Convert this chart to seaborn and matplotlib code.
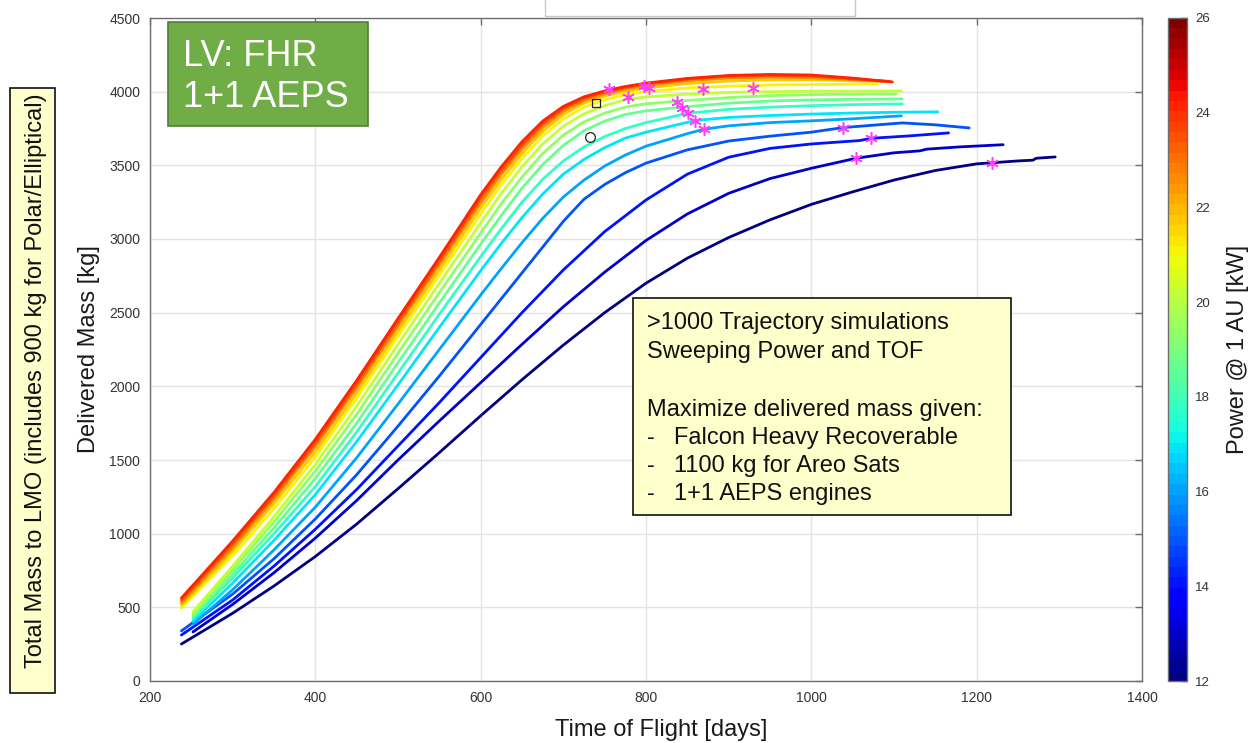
import numpy as np
import pandas as pd
import matplotlib
matplotlib.use("Agg")
import matplotlib.pyplot as plt
import matplotlib.patches as mpatches
from matplotlib.colors import Normalize
import matplotlib.colorbar as mcolorbar
import seaborn as sns

# ---------------- data ----------------
powers = [12.0, 13.0, 14.0, 15.0, 16.0, 17.0, 17.8, 18.6, 19.4, 20.2, 21.0, 21.8, 22.6, 23.4, 24.2]

t_p12 = [238, 300, 350, 400, 450, 500, 550, 600, 650, 700, 750, 800, 850, 900, 950, 1000, 1050, 1100, 1150, 1200, 1250, 1268, 1272, 1295]
m_p12 = [251, 460, 645, 845, 1065, 1305, 1550, 1800, 2045, 2280, 2500, 2700, 2870, 3010, 3130, 3235, 3320, 3400, 3465, 3510, 3530, 3535, 3548, 3557]

t_p13 = [252, 300, 350, 400, 450, 500, 550, 600, 650, 700, 750, 800, 850, 900, 950, 1000, 1054, 1100, 1131, 1140, 1179, 1232]
m_p13 = [333, 520, 735, 970, 1225, 1500, 1765, 2025, 2285, 2540, 2775, 2990, 3170, 3310, 3410, 3480, 3548, 3585, 3598, 3610, 3625, 3640]

t_p14 = [238, 300, 350, 400, 450, 500, 550, 600, 650, 700, 750, 800, 850, 900, 950, 1000, 1058, 1074, 1119, 1166]
m_p14 = [312, 550, 780, 1030, 1300, 1595, 1890, 2195, 2500, 2790, 3050, 3265, 3440, 3555, 3615, 3645, 3668, 3684, 3700, 3720]

t_p15 = [238, 300, 350, 400, 450, 500, 550, 600, 650, 700, 725, 750, 775, 800, 850, 900, 950, 1000, 1038, 1058, 1110, 1150, 1191]
m_p15 = [340, 590, 830, 1100, 1400, 1730, 2070, 2420, 2770, 3120, 3270, 3370, 3450, 3515, 3605, 3665, 3698, 3725, 3756, 3765, 3788, 3775, 3754]

t_p16 = [252, 300, 350, 400, 450, 500, 550, 600, 625, 650, 675, 700, 725, 750, 775, 800, 850, 870, 900, 950, 1000, 1050, 1109]
m_p16 = [385, 620, 890, 1180, 1515, 1880, 2250, 2620, 2800, 2975, 3140, 3285, 3400, 3495, 3570, 3630, 3715, 3745, 3768, 3790, 3802, 3816, 3836]

t_p17 = [252, 300, 350, 400, 450, 500, 550, 600, 625, 650, 675, 700, 725, 750, 775, 800, 859, 900, 950, 1000, 1050, 1100, 1153]
m_p17 = [405, 665, 955, 1265, 1625, 2010, 2400, 2785, 2970, 3145, 3305, 3440, 3540, 3620, 3685, 3725, 3804, 3825, 3838, 3848, 3855, 3860, 3863]

t_p178 = [252, 300, 350, 400, 450, 500, 550, 600, 625, 650, 675, 700, 725, 750, 775, 800, 851, 900, 950, 1000, 1050, 1110]
m_p178 = [425, 700, 1000, 1320, 1690, 2090, 2490, 2880, 3070, 3250, 3405, 3530, 3625, 3695, 3750, 3790, 3854, 3880, 3895, 3905, 3912, 3917]

t_p186 = [252, 300, 350, 400, 450, 500, 550, 600, 625, 650, 675, 700, 725, 750, 775, 800, 844, 900, 950, 1000, 1050, 1110]
m_p186 = [440, 725, 1040, 1375, 1750, 2160, 2565, 2965, 3160, 3345, 3505, 3635, 3735, 3800, 3845, 3870, 3895, 3922, 3937, 3944, 3948, 3951]

t_p194 = [252, 300, 350, 400, 450, 500, 550, 600, 625, 650, 675, 700, 725, 750, 775, 800, 838, 900, 950, 1000, 1050, 1103]
m_p194 = [455, 755, 1080, 1425, 1810, 2225, 2635, 3040, 3240, 3420, 3580, 3705, 3795, 3855, 3895, 3918, 3935, 3960, 3973, 3980, 3983, 3985]

t_p202 = [252, 300, 350, 400, 450, 500, 550, 600, 625, 650, 675, 700, 725, 750, 775, 800, 850, 900, 950, 1000, 1050, 1109]
m_p202 = [470, 780, 1115, 1470, 1865, 2285, 2700, 3110, 3310, 3490, 3645, 3765, 3850, 3905, 3945, 3965, 3983, 3995, 4000, 4003, 4004, 4005]

t_p21 = [238, 300, 350, 400, 450, 500, 550, 600, 625, 650, 675, 700, 725, 750, 775, 800, 850, 900, 950, 1000, 1040, 1080]
m_p21 = [496, 850, 1170, 1520, 1920, 2340, 2755, 3170, 3370, 3545, 3700, 3815, 3895, 3945, 3980, 4000, 4025, 4037, 4045, 4048, 4050, 4053]

t_p218 = [238, 300, 350, 400, 450, 500, 550, 600, 625, 650, 675, 700, 725, 750, 775, 800, 850, 900, 950, 1000, 1050, 1090]
m_p218 = [515, 880, 1205, 1555, 1955, 2375, 2790, 3210, 3405, 3580, 3730, 3845, 3922, 3970, 4003, 4025, 4055, 4072, 4080, 4080, 4074, 4070]

t_p226 = [238, 300, 350, 400, 450, 500, 550, 600, 625, 650, 675, 700, 725, 750, 775, 800, 850, 900, 950, 1000, 1050, 1095]
m_p226 = [530, 905, 1235, 1590, 1990, 2410, 2825, 3245, 3440, 3610, 3757, 3867, 3940, 3985, 4018, 4042, 4074, 4092, 4098, 4095, 4082, 4070]

t_p234 = [238, 300, 350, 400, 450, 500, 550, 600, 625, 650, 675, 700, 725, 750, 775, 800, 850, 900, 950, 1000, 1050, 1095]
m_p234 = [548, 930, 1258, 1615, 2015, 2435, 2850, 3275, 3465, 3635, 3780, 3885, 3955, 3997, 4028, 4052, 4085, 4106, 4110, 4106, 4086, 4068]

t_p242 = [238, 300, 350, 400, 450, 500, 550, 600, 625, 650, 675, 700, 725, 750, 775, 800, 850, 900, 950, 1000, 1050, 1098]
m_p242 = [563, 950, 1280, 1640, 2040, 2460, 2875, 3300, 3490, 3660, 3800, 3900, 3965, 4005, 4035, 4058, 4090, 4110, 4117, 4113, 4092, 4066]

star_t = [755, 778, 797, 804, 869, 930, 838, 844, 851, 859, 870, 1038, 1072, 1054, 1218]
star_m = [4017, 3962, 4039, 4023, 4017, 4023, 3933, 3892, 3854, 3804, 3745, 3756, 3684, 3548, 3518]

square_t, square_m = [739], [3920]
circle_t, circle_m = [732], [3691]

x_ticks = [200, 400, 600, 800, 1000, 1200, 1400]
y_ticks = [0, 500, 1000, 1500, 2000, 2500, 3000, 3500, 4000, 4500]
cb_ticks = [12, 14, 16, 18, 20, 22, 24, 26]

info_lines = [">1000 Trajectory simulations", "Sweeping Power and TOF", "",
              "Maximize delivered mass given:"]
info_items = ["Falcon Heavy Recoverable", "1100 kg for Areo Sats", "1+1 AEPS engines"]

# ---------------- build long-form table ----------------
curves_t = [t_p12, t_p13, t_p14, t_p15, t_p16, t_p17, t_p178, t_p186, t_p194, t_p202,
            t_p21, t_p218, t_p226, t_p234, t_p242]
curves_m = [m_p12, m_p13, m_p14, m_p15, m_p16, m_p17, m_p178, m_p186, m_p194, m_p202,
            m_p21, m_p218, m_p226, m_p234, m_p242]
frames = []
for p, tt, mm in zip(powers, curves_t, curves_m):
    frames.append(pd.DataFrame({"tof": tt, "mass": mm, "power": p}))
df = pd.concat(frames, ignore_index=True)

# ---------------- style ----------------
sns.set_theme(style="whitegrid")
plt.rcParams["font.family"] = ["Liberation Sans", "DejaVu Sans"]

W, H = 1249, 743
fig = plt.figure(figsize=(W / 100, H / 100), dpi=100)
fig.patch.set_facecolor("white")

def fx(px):
    return px / W

def fy(py):
    return 1 - py / H

ax_l, ax_r, ax_t, ax_b = 150, 1142, 18, 681
ax = fig.add_axes([fx(ax_l), fy(ax_b), (ax_r - ax_l) / W, (ax_b - ax_t) / H])
cax = fig.add_axes([fx(1168), fy(ax_b), 19 / W, (ax_b - ax_t) / H])

cmap = plt.get_cmap("jet", 64)
norm = Normalize(12, 26)
palette = {p: cmap(norm(p)) for p in powers}

sns.lineplot(data=df, x="tof", y="mass", hue="power", units="power", estimator=None,
             sort=False, palette=palette, legend=False, linewidth=2.0, ax=ax)

ax.plot(star_t, star_m, linestyle="none", marker=(6, 2, 0), markersize=9,
        markeredgecolor="#ff3dff", markeredgewidth=1.1, zorder=5)
ax.plot(square_t, square_m, linestyle="none", marker="s", markersize=5.5,
        markerfacecolor="none", markeredgecolor="#222222", markeredgewidth=0.9, zorder=5)
ax.plot(circle_t, circle_m, linestyle="none", marker="o", markersize=7,
        markerfacecolor="none", markeredgecolor="#222222", markeredgewidth=0.9, zorder=5)

ax.set_xlim(200, 1400)
ax.set_ylim(0, 4500)
ax.set_xticks(x_ticks)
ax.set_yticks(y_ticks)
ax.set_xlabel("Time of Flight [days]", fontsize=17, color="#1a1a1a")
ax.set_ylabel("Delivered Mass [kg]", fontsize=17, color="#1a1a1a")
ax.xaxis.set_label_coords(0.515, -0.058)
ax.yaxis.set_label_coords(-0.050, 0.5)
ax.grid(True, color="#e3e3e3", linewidth=1.0)
ax.set_facecolor("white")
for s in ax.spines.values():
    s.set_visible(True)
    s.set_color("#6e6e6e")
    s.set_linewidth(1.0)
ax.tick_params(axis="both", direction="in", length=5, width=1, color="#6e6e6e",
               labelsize=10, labelcolor="#333333", top=True, right=True,
               labeltop=False, labelright=False)
ax.tick_params(axis="x", pad=7)
ax.tick_params(axis="y", pad=7)

# colorbar
cb = mcolorbar.ColorbarBase(cax, cmap=cmap, norm=norm, orientation="vertical")
cb.set_ticks(cb_ticks)
cb.outline.set_edgecolor("#6e6e6e")
cb.outline.set_linewidth(1.0)
cax.tick_params(direction="in", length=4, width=1, color="#333333", labelsize=9.5,
                labelcolor="#333333", pad=6)
cb.set_label("Power @ 1 AU [kW]", fontsize=17, color="#1a1a1a", labelpad=12)

# green title box
fig.patches.append(mpatches.Rectangle((fx(168), fy(126)), 200 / W, 104 / H,
                                      transform=fig.transFigure, facecolor="#70ad47",
                                      edgecolor="#507e32", linewidth=1.2, zorder=10))
fig.text(fx(183), fy(66), "LV: FHR", fontsize=26, color="white", va="baseline",
         ha="left", zorder=11)
fig.text(fx(183), fy(107), "1+1 AEPS", fontsize=26, color="white", va="baseline",
         ha="left", zorder=11)

# yellow info box
fig.patches.append(mpatches.Rectangle((fx(633), fy(515)), (1011 - 633) / W, (515 - 298) / H,
                                      transform=fig.transFigure, facecolor="#ffffcc",
                                      edgecolor="#111111", linewidth=1.2, zorder=10))
base_y = [329, 358, 387, 416]
for line, yy in zip(info_lines, base_y):
    if line:
        fig.text(fx(647), fy(yy), line, fontsize=17, color="#111111", va="baseline",
                 ha="left", zorder=11)
for item, yy in zip(info_items, [444, 472, 500]):
    fig.text(fx(647), fy(yy), "-", fontsize=17, color="#111111", va="baseline",
             ha="left", zorder=11)
    fig.text(fx(674), fy(yy), item, fontsize=17, color="#111111", va="baseline",
             ha="left", zorder=11)

# left rotated yellow box
fig.patches.append(mpatches.Rectangle((fx(10), fy(693)), 45 / W, (693 - 88) / H,
                                      transform=fig.transFigure, facecolor="#ffffcc",
                                      edgecolor="#111111", linewidth=1.2, zorder=10))
fig.text(fx(36), fy(381), "Total Mass to LMO (includes 900 kg for Polar/Elliptical)",
         fontsize=17, color="#111111", rotation=90, ha="center", va="center", zorder=11)

# partially visible box at the top
fig.patches.append(mpatches.Rectangle((fx(545), fy(16)), 310 / W, 30 / H,
                                      transform=fig.transFigure, facecolor="white",
                                      edgecolor="#c8c8c8", linewidth=1.0, zorder=10))

fig.savefig("out.png", dpi=100, facecolor="white")
